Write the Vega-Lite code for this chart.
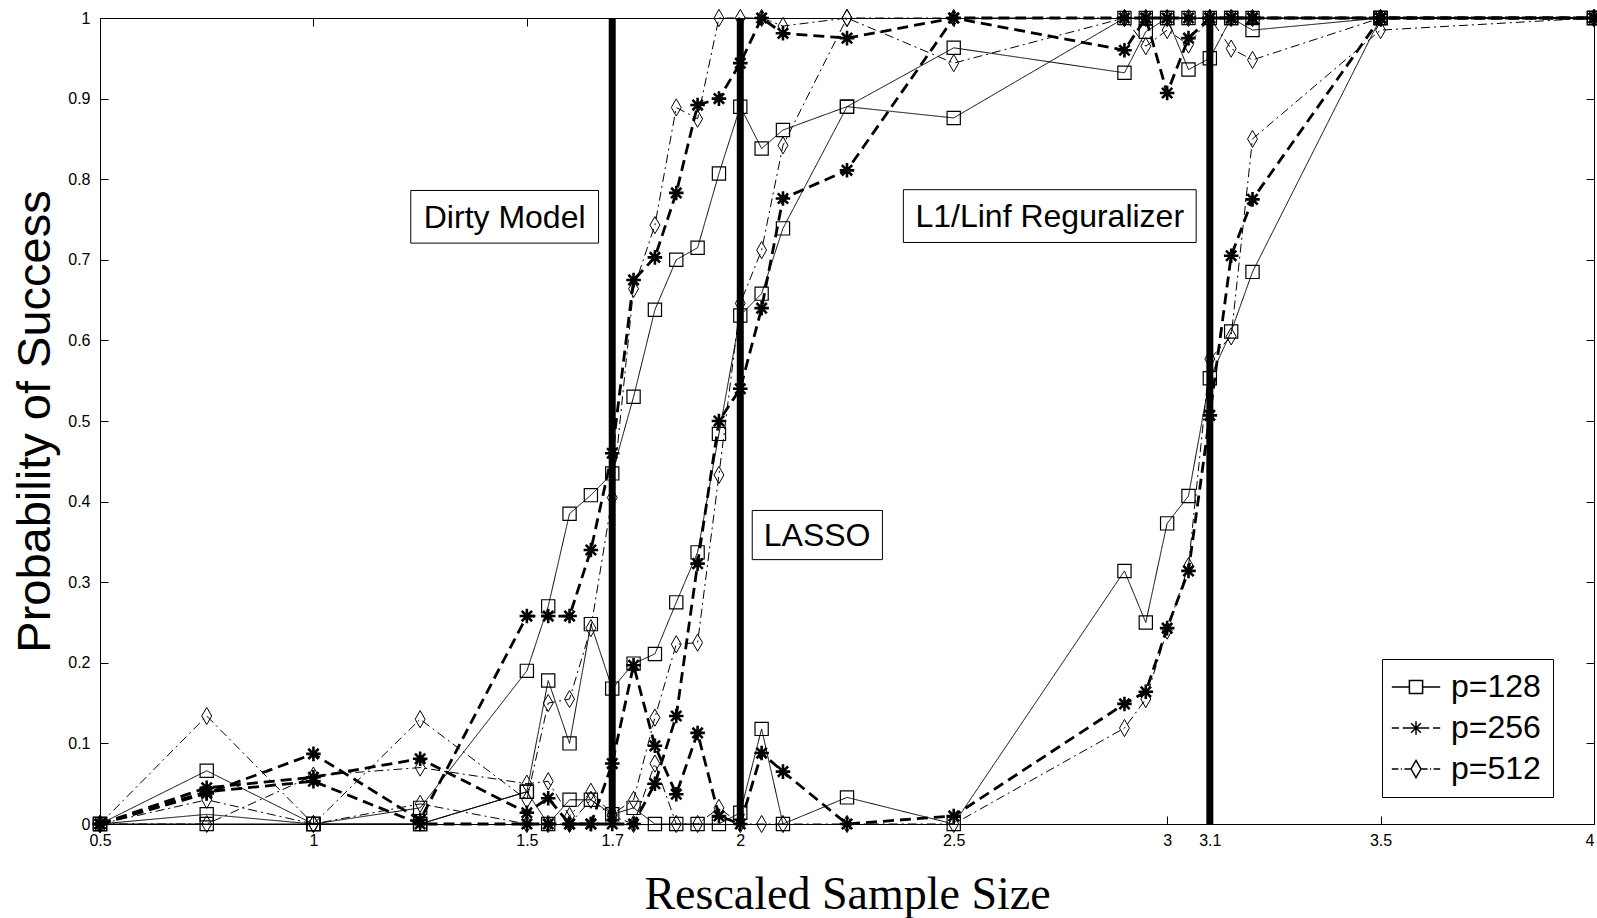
{
  "$schema": "https://vega.github.io/schema/vega-lite/v6.json",
  "width": 1494,
  "height": 806,
  "autosize": {"type": "none"},
  "padding": {"left": 100, "top": 18, "right": 3, "bottom": 94},
  "background": "white",
  "config": {
    "view": {"stroke": "black", "strokeWidth": 1},
    "axis": {"grid": false, "domain": false, "tickColor": "black", "tickSize": -8, "tickWidth": 1, "labelColor": "black", "titleColor": "black"}
  },
  "datasets": {
    "curves": [
      {"m":"D","p":"128","x":0.5,"y":0},{"m":"D","p":"128","x":0.75,"y":0.066},{"m":"D","p":"128","x":1,"y":0},{"m":"D","p":"128","x":1.25,"y":0.02},{"m":"D","p":"128","x":1.5,"y":0.19},{"m":"D","p":"128","x":1.55,"y":0.27},{"m":"D","p":"128","x":1.6,"y":0.385},{"m":"D","p":"128","x":1.65,"y":0.408},{"m":"D","p":"128","x":1.7,"y":0.435},{"m":"D","p":"128","x":1.75,"y":0.53},{"m":"D","p":"128","x":1.8,"y":0.638},{"m":"D","p":"128","x":1.85,"y":0.7},{"m":"D","p":"128","x":1.9,"y":0.715},{"m":"D","p":"128","x":1.95,"y":0.807},{"m":"D","p":"128","x":2,"y":0.89},{"m":"D","p":"128","x":2.05,"y":0.838},{"m":"D","p":"128","x":2.1,"y":0.861},{"m":"D","p":"128","x":2.25,"y":0.89},{"m":"D","p":"128","x":2.5,"y":0.963},{"m":"D","p":"128","x":2.9,"y":0.932},{"m":"D","p":"128","x":2.95,"y":0.983},{"m":"D","p":"128","x":3,"y":1},{"m":"D","p":"128","x":3.05,"y":0.936},{"m":"D","p":"128","x":3.1,"y":0.95},{"m":"D","p":"128","x":3.15,"y":1},{"m":"D","p":"128","x":3.2,"y":0.985},{"m":"D","p":"128","x":3.5,"y":1},{"m":"D","p":"128","x":4,"y":1},
      {"m":"L","p":"128","x":0.5,"y":0},{"m":"L","p":"128","x":0.75,"y":0.012},{"m":"L","p":"128","x":1,"y":0},{"m":"L","p":"128","x":1.25,"y":0},{"m":"L","p":"128","x":1.5,"y":0.04},{"m":"L","p":"128","x":1.55,"y":0.178},{"m":"L","p":"128","x":1.6,"y":0.1},{"m":"L","p":"128","x":1.65,"y":0.248},{"m":"L","p":"128","x":1.7,"y":0.168},{"m":"L","p":"128","x":1.75,"y":0.199},{"m":"L","p":"128","x":1.8,"y":0.211},{"m":"L","p":"128","x":1.85,"y":0.275},{"m":"L","p":"128","x":1.9,"y":0.337},{"m":"L","p":"128","x":1.95,"y":0.484},{"m":"L","p":"128","x":2,"y":0.631},{"m":"L","p":"128","x":2.05,"y":0.658},{"m":"L","p":"128","x":2.1,"y":0.739},{"m":"L","p":"128","x":2.25,"y":0.89},{"m":"L","p":"128","x":2.5,"y":0.876},{"m":"L","p":"128","x":2.9,"y":1},{"m":"L","p":"128","x":2.95,"y":1},{"m":"L","p":"128","x":3,"y":1},{"m":"L","p":"128","x":3.05,"y":1},{"m":"L","p":"128","x":3.1,"y":1},{"m":"L","p":"128","x":3.15,"y":1},{"m":"L","p":"128","x":3.2,"y":1},{"m":"L","p":"128","x":3.5,"y":1},{"m":"L","p":"128","x":4,"y":1},
      {"m":"I","p":"128","x":0.5,"y":0},{"m":"I","p":"128","x":0.75,"y":0},{"m":"I","p":"128","x":1,"y":0},{"m":"I","p":"128","x":1.25,"y":0},{"m":"I","p":"128","x":1.5,"y":0.04},{"m":"I","p":"128","x":1.55,"y":0},{"m":"I","p":"128","x":1.6,"y":0.03},{"m":"I","p":"128","x":1.65,"y":0.03},{"m":"I","p":"128","x":1.7,"y":0.012},{"m":"I","p":"128","x":1.75,"y":0.02},{"m":"I","p":"128","x":1.8,"y":0},{"m":"I","p":"128","x":1.85,"y":0},{"m":"I","p":"128","x":1.9,"y":0},{"m":"I","p":"128","x":1.95,"y":0},{"m":"I","p":"128","x":2,"y":0.014},{"m":"I","p":"128","x":2.05,"y":0.118},{"m":"I","p":"128","x":2.1,"y":0},{"m":"I","p":"128","x":2.25,"y":0.033},{"m":"I","p":"128","x":2.5,"y":0},{"m":"I","p":"128","x":2.9,"y":0.314},{"m":"I","p":"128","x":2.95,"y":0.25},{"m":"I","p":"128","x":3,"y":0.373},{"m":"I","p":"128","x":3.05,"y":0.407},{"m":"I","p":"128","x":3.1,"y":0.553},{"m":"I","p":"128","x":3.15,"y":0.611},{"m":"I","p":"128","x":3.2,"y":0.685},{"m":"I","p":"128","x":3.5,"y":1},{"m":"I","p":"128","x":4,"y":1},
      {"m":"D","p":"256","x":0.5,"y":0},{"m":"D","p":"256","x":0.75,"y":0.038},{"m":"D","p":"256","x":1,"y":0.087},{"m":"D","p":"256","x":1.25,"y":0.005},{"m":"D","p":"256","x":1.5,"y":0.258},{"m":"D","p":"256","x":1.55,"y":0.258},{"m":"D","p":"256","x":1.6,"y":0.258},{"m":"D","p":"256","x":1.65,"y":0.34},{"m":"D","p":"256","x":1.7,"y":0.46},{"m":"D","p":"256","x":1.75,"y":0.675},{"m":"D","p":"256","x":1.8,"y":0.703},{"m":"D","p":"256","x":1.85,"y":0.783},{"m":"D","p":"256","x":1.9,"y":0.892},{"m":"D","p":"256","x":1.95,"y":0.9},{"m":"D","p":"256","x":2,"y":0.944},{"m":"D","p":"256","x":2.05,"y":1},{"m":"D","p":"256","x":2.1,"y":0.981},{"m":"D","p":"256","x":2.25,"y":0.975},{"m":"D","p":"256","x":2.5,"y":1},{"m":"D","p":"256","x":2.9,"y":1},{"m":"D","p":"256","x":2.95,"y":1},{"m":"D","p":"256","x":3,"y":1},{"m":"D","p":"256","x":3.05,"y":1},{"m":"D","p":"256","x":3.1,"y":1},{"m":"D","p":"256","x":3.15,"y":1},{"m":"D","p":"256","x":3.2,"y":1},{"m":"D","p":"256","x":3.5,"y":1},{"m":"D","p":"256","x":4,"y":1},
      {"m":"L","p":"256","x":0.5,"y":0},{"m":"L","p":"256","x":0.75,"y":0.04},{"m":"L","p":"256","x":1,"y":0.053},{"m":"L","p":"256","x":1.25,"y":0},{"m":"L","p":"256","x":1.5,"y":0},{"m":"L","p":"256","x":1.55,"y":0},{"m":"L","p":"256","x":1.6,"y":0},{"m":"L","p":"256","x":1.65,"y":0},{"m":"L","p":"256","x":1.7,"y":0},{"m":"L","p":"256","x":1.75,"y":0},{"m":"L","p":"256","x":1.8,"y":0.05},{"m":"L","p":"256","x":1.85,"y":0.134},{"m":"L","p":"256","x":1.9,"y":0.323},{"m":"L","p":"256","x":1.95,"y":0.5},{"m":"L","p":"256","x":2,"y":0.54},{"m":"L","p":"256","x":2.05,"y":0.64},{"m":"L","p":"256","x":2.1,"y":0.776},{"m":"L","p":"256","x":2.25,"y":0.811},{"m":"L","p":"256","x":2.5,"y":1},{"m":"L","p":"256","x":2.9,"y":0.96},{"m":"L","p":"256","x":2.95,"y":1},{"m":"L","p":"256","x":3,"y":0.907},{"m":"L","p":"256","x":3.05,"y":0.975},{"m":"L","p":"256","x":3.1,"y":1},{"m":"L","p":"256","x":3.15,"y":1},{"m":"L","p":"256","x":3.2,"y":1},{"m":"L","p":"256","x":3.5,"y":1},{"m":"L","p":"256","x":4,"y":1},
      {"m":"I","p":"256","x":0.5,"y":0},{"m":"I","p":"256","x":0.75,"y":0.045},{"m":"I","p":"256","x":1,"y":0.058},{"m":"I","p":"256","x":1.25,"y":0.081},{"m":"I","p":"256","x":1.5,"y":0.014},{"m":"I","p":"256","x":1.55,"y":0.032},{"m":"I","p":"256","x":1.6,"y":0},{"m":"I","p":"256","x":1.65,"y":0},{"m":"I","p":"256","x":1.7,"y":0.075},{"m":"I","p":"256","x":1.75,"y":0.197},{"m":"I","p":"256","x":1.8,"y":0.097},{"m":"I","p":"256","x":1.85,"y":0.037},{"m":"I","p":"256","x":1.9,"y":0.113},{"m":"I","p":"256","x":1.95,"y":0.01},{"m":"I","p":"256","x":2,"y":0},{"m":"I","p":"256","x":2.05,"y":0.088},{"m":"I","p":"256","x":2.1,"y":0.065},{"m":"I","p":"256","x":2.25,"y":0},{"m":"I","p":"256","x":2.5,"y":0.01},{"m":"I","p":"256","x":2.9,"y":0.149},{"m":"I","p":"256","x":2.95,"y":0.164},{"m":"I","p":"256","x":3,"y":0.243},{"m":"I","p":"256","x":3.05,"y":0.314},{"m":"I","p":"256","x":3.1,"y":0.507},{"m":"I","p":"256","x":3.15,"y":0.705},{"m":"I","p":"256","x":3.2,"y":0.775},{"m":"I","p":"256","x":3.5,"y":1},{"m":"I","p":"256","x":4,"y":1},
      {"m":"D","p":"512","x":0.5,"y":0},{"m":"D","p":"512","x":0.75,"y":0.134},{"m":"D","p":"512","x":1,"y":0},{"m":"D","p":"512","x":1.25,"y":0.13},{"m":"D","p":"512","x":1.5,"y":0.03},{"m":"D","p":"512","x":1.55,"y":0.15},{"m":"D","p":"512","x":1.6,"y":0.155},{"m":"D","p":"512","x":1.65,"y":0.243},{"m":"D","p":"512","x":1.7,"y":0.405},{"m":"D","p":"512","x":1.75,"y":0.664},{"m":"D","p":"512","x":1.8,"y":0.743},{"m":"D","p":"512","x":1.85,"y":0.889},{"m":"D","p":"512","x":1.9,"y":0.875},{"m":"D","p":"512","x":1.95,"y":1},{"m":"D","p":"512","x":2,"y":1},{"m":"D","p":"512","x":2.05,"y":1},{"m":"D","p":"512","x":2.1,"y":0.99},{"m":"D","p":"512","x":2.25,"y":1},{"m":"D","p":"512","x":2.5,"y":1},{"m":"D","p":"512","x":2.9,"y":1},{"m":"D","p":"512","x":2.95,"y":1},{"m":"D","p":"512","x":3,"y":1},{"m":"D","p":"512","x":3.05,"y":1},{"m":"D","p":"512","x":3.1,"y":1},{"m":"D","p":"512","x":3.15,"y":1},{"m":"D","p":"512","x":3.2,"y":1},{"m":"D","p":"512","x":3.5,"y":1},{"m":"D","p":"512","x":4,"y":1},
      {"m":"L","p":"512","x":0.5,"y":0},{"m":"L","p":"512","x":0.75,"y":0},{"m":"L","p":"512","x":1,"y":0.06},{"m":"L","p":"512","x":1.25,"y":0.07},{"m":"L","p":"512","x":1.5,"y":0.05},{"m":"L","p":"512","x":1.55,"y":0.053},{"m":"L","p":"512","x":1.6,"y":0.01},{"m":"L","p":"512","x":1.65,"y":0.04},{"m":"L","p":"512","x":1.7,"y":0.012},{"m":"L","p":"512","x":1.75,"y":0.03},{"m":"L","p":"512","x":1.8,"y":0.132},{"m":"L","p":"512","x":1.85,"y":0.223},{"m":"L","p":"512","x":1.9,"y":0.225},{"m":"L","p":"512","x":1.95,"y":0.433},{"m":"L","p":"512","x":2,"y":0.646},{"m":"L","p":"512","x":2.05,"y":0.712},{"m":"L","p":"512","x":2.1,"y":0.842},{"m":"L","p":"512","x":2.25,"y":1},{"m":"L","p":"512","x":2.5,"y":0.944},{"m":"L","p":"512","x":2.9,"y":1},{"m":"L","p":"512","x":2.95,"y":0.965},{"m":"L","p":"512","x":3,"y":0.985},{"m":"L","p":"512","x":3.05,"y":0.967},{"m":"L","p":"512","x":3.1,"y":1},{"m":"L","p":"512","x":3.15,"y":0.962},{"m":"L","p":"512","x":3.2,"y":0.948},{"m":"L","p":"512","x":3.5,"y":1},{"m":"L","p":"512","x":4,"y":1},
      {"m":"I","p":"512","x":0.5,"y":0},{"m":"I","p":"512","x":0.75,"y":0.03},{"m":"I","p":"512","x":1,"y":0},{"m":"I","p":"512","x":1.25,"y":0.025},{"m":"I","p":"512","x":1.5,"y":0},{"m":"I","p":"512","x":1.55,"y":0},{"m":"I","p":"512","x":1.6,"y":0},{"m":"I","p":"512","x":1.65,"y":0.03},{"m":"I","p":"512","x":1.7,"y":0.01},{"m":"I","p":"512","x":1.75,"y":0},{"m":"I","p":"512","x":1.8,"y":0.075},{"m":"I","p":"512","x":1.85,"y":0},{"m":"I","p":"512","x":1.9,"y":0},{"m":"I","p":"512","x":1.95,"y":0.02},{"m":"I","p":"512","x":2,"y":0},{"m":"I","p":"512","x":2.05,"y":0},{"m":"I","p":"512","x":2.1,"y":0},{"m":"I","p":"512","x":2.25,"y":0},{"m":"I","p":"512","x":2.5,"y":0},{"m":"I","p":"512","x":2.9,"y":0.119},{"m":"I","p":"512","x":2.95,"y":0.155},{"m":"I","p":"512","x":3,"y":0.24},{"m":"I","p":"512","x":3.05,"y":0.32},{"m":"I","p":"512","x":3.1,"y":0.577},{"m":"I","p":"512","x":3.15,"y":0.605},{"m":"I","p":"512","x":3.2,"y":0.85},{"m":"I","p":"512","x":3.5,"y":0.985},{"m":"I","p":"512","x":4,"y":1}
    ],
    "thresholds": [{"t": 1.7}, {"t": 2}, {"t": 3.1}],
    "boxes": [
      {"label": "Dirty Model", "x1": 1.228, "x2": 1.668, "y1": 0.7207, "y2": 0.786, "tx": 1.448, "ty": 0.752},
      {"label": "LASSO", "x1": 2.028, "x2": 2.333, "y1": 0.328, "y2": 0.389, "tx": 2.18, "ty": 0.357},
      {"label": "L1/Linf Reguralizer", "x1": 2.382, "x2": 3.068, "y1": 0.7215, "y2": 0.787, "tx": 2.725, "ty": 0.753}
    ]
  },
  "resolve": {"scale": {"shape": "independent", "strokeWidth": "independent"}, "axis": {"x": "independent", "y": "independent"}, "legend": {"shape": "independent"}},
  "layer": [
    {
      "data": {"name": "curves"},
      "mark": {"type": "line", "color": "black", "strokeCap": "butt"},
      "encoding": {
        "x": {"field": "x", "type": "quantitative", "scale": {"domain": [0.5, 4], "nice": false, "zero": false},
          "axis": {"orient": "bottom", "values": [0.5, 1, 1.5, 1.7, 2, 2.5, 3, 3.1, 3.5, 4], "format": "~g", "labelFont": "Liberation Sans Narrow, Liberation Sans", "labelFontSize": 16, "labelPadding": 16, "labelFlush": false, "labelOverlap": false,
            "labelAlign": {"condition": {"test": "datum.value === 4", "value": "right"}, "value": "center"},
            "title": "Rescaled Sample Size", "titleFont": "Liberation Serif", "titleFontSize": 46, "titleFontWeight": "normal", "titlePadding": 24}},
        "y": {"field": "y", "type": "quantitative", "scale": {"domain": [0, 1], "nice": false},
          "axis": {"orient": "left", "values": [0, 0.1, 0.2, 0.3, 0.4, 0.5, 0.6, 0.7, 0.8, 0.9, 1], "labelExpr": "format(datum.value, '.1~f')", "labelFont": "Liberation Sans Narrow, Liberation Sans", "labelFontSize": 16, "labelPadding": 18, "labelFlush": false, "labelOverlap": false,
            "title": "Probability of Success", "titleFont": "Liberation Sans", "titleFontSize": 47, "titleFontWeight": "normal", "titlePadding": 8}},
        "detail": {"field": "m"},
        "order": {"field": "x", "type": "quantitative"},
        "strokeDash": {"field": "p", "type": "nominal", "scale": {"domain": ["128", "256", "512"], "range": [[1, 0], [11, 6], [9, 4, 2, 4]]}, "legend": null},
        "strokeWidth": {"field": "p", "type": "nominal", "scale": {"type": "ordinal", "domain": ["128", "256", "512"], "range": [1, 2.8, 1]}, "legend": null}
      }
    },
    {
      "data": {"name": "thresholds"},
      "mark": {"type": "rule", "color": "black", "strokeWidth": 7, "strokeCap": "butt"},
      "encoding": {
        "x": {"field": "t", "type": "quantitative", "axis": null},
        "y": {"datum": 0, "axis": null},
        "y2": {"datum": 1}
      }
    },
    {
      "data": {"name": "curves"},
      "mark": {"type": "point", "filled": false, "color": "black", "opacity": 1, "size": 175},
      "encoding": {
        "x": {"field": "x", "type": "quantitative",
          "axis": {"orient": "top", "values": [0.5, 1, 1.5, 1.7, 2, 2.5, 3, 3.1, 3.5, 4], "labels": false, "title": null}},
        "y": {"field": "y", "type": "quantitative",
          "axis": {"orient": "right", "values": [0, 0.1, 0.2, 0.3, 0.4, 0.5, 0.6, 0.7, 0.8, 0.9, 1], "labels": false, "title": null}},
        "shape": {"field": "p", "type": "nominal", "legend": null, "scale": {"domain": ["128", "256", "512"], "range": ["square", "M-1.1,0L1.1,0M0,-1.1L0,1.1M-0.78,-0.78L0.78,0.78M-0.78,0.78L0.78,-0.78", "M0,-1.3L0.75,0L0,1.3L-0.75,0Z"]}},
        "strokeWidth": {"field": "p", "type": "nominal", "legend": null, "scale": {"type": "ordinal", "domain": ["128", "256", "512"], "range": [1.2, 2.6, 1]}}
      }
    },
    {
      "data": {"name": "curves"},
      "transform": [{"filter": "datum.m === 'D' && datum.x === 0.5"}],
      "mark": {"type": "point", "filled": false, "color": "black", "opacity": 0},
      "encoding": {
        "x": {"field": "x", "type": "quantitative", "axis": null},
        "y": {"field": "y", "type": "quantitative", "axis": null},
        "shape": {"field": "p", "type": "nominal",
          "scale": {"domain": ["128", "256", "512"], "range": [
            "M-2.2,0L-0.6,0M0.6,0L2.2,0M-0.6,-0.6L0.6,-0.6L0.6,0.6L-0.6,0.6Z",
            "M-2.2,0L-1.55,0M-1.2,0L-0.62,0M0.62,0L1.2,0M1.55,0L2.2,0M-0.62,0L0.62,0M0,-0.62L0,0.62M-0.44,-0.44L0.44,0.44M-0.44,0.44L0.44,-0.44",
            "M-2.2,0L-1.6,0M-1.38,0L-1.28,0M-1.05,0L-0.45,0M0.45,0L1.05,0M1.28,0L1.38,0M1.6,0L2.2,0M0,-0.78L0.45,0L0,0.78L-0.45,0Z"]},
          "legend": {"orient": "none", "legendX": 1282, "legendY": 641, "title": null, "symbolSize": 484, "symbolOffset": 6, "padding": 12, "labelOffset": 19,
            "labelExpr": "'p=' + datum.label + '\u00a0\u00a0\u00a0\u00a0\u00a0\u00a0\u00a0'",
            "labelFont": "Liberation Sans", "labelFontSize": 32, "labelColor": "black", "rowPadding": 9, "strokeColor": "black", "fillColor": "white",
            "encode": {"symbols": {"update": {"opacity": {"value": 1}, "fill": {"value": "transparent"}, "stroke": {"value": "black"}, "strokeWidth": {"signal": "datum.value === '256' ? 2.5 : 1"}}}}}
        }
      }
    },
    {
      "data": {"name": "boxes"},
      "mark": {"type": "rect", "fill": "white", "stroke": "black", "strokeWidth": 1},
      "encoding": {
        "x": {"field": "x1", "type": "quantitative", "axis": null},
        "x2": {"field": "x2"},
        "y": {"field": "y1", "type": "quantitative", "axis": null},
        "y2": {"field": "y2"}
      }
    },
    {
      "data": {"name": "boxes"},
      "mark": {"type": "text", "font": "Liberation Sans", "fontSize": 32, "color": "black", "align": "center", "baseline": "middle"},
      "encoding": {
        "x": {"field": "tx", "type": "quantitative", "axis": null},
        "y": {"field": "ty", "type": "quantitative", "axis": null},
        "text": {"field": "label"}
      }
    }
  ]
}
